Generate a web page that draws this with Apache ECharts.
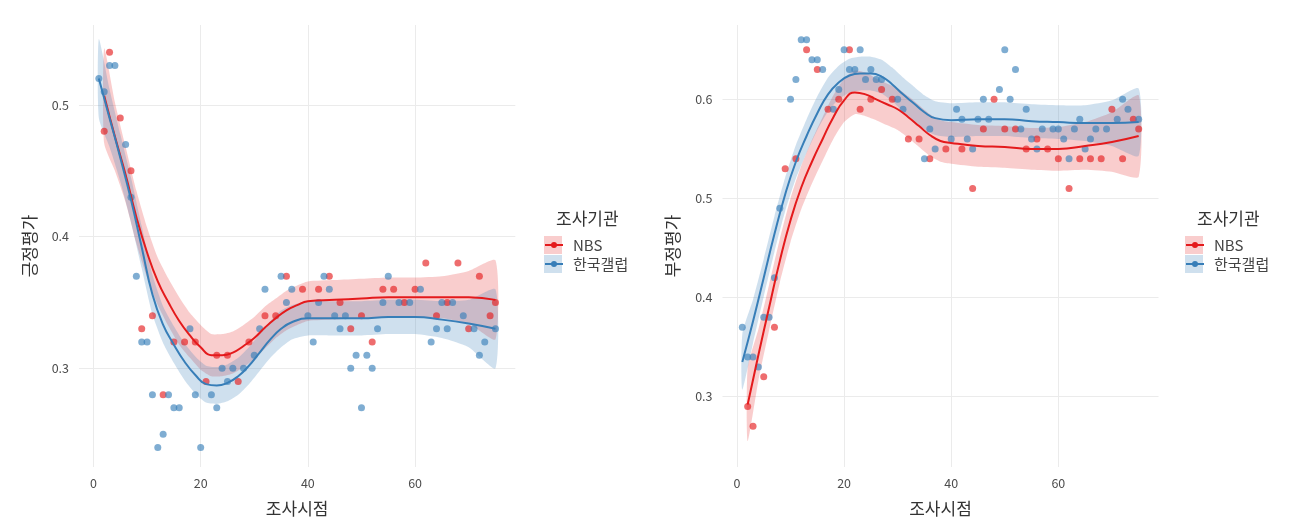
<!DOCTYPE html>
<html><head><meta charset="utf-8">
<script src="https://cdn.jsdelivr.net/npm/echarts@6/dist/echarts.min.js"></script>
<style>html,body{margin:0;padding:0;background:#fff}#c{width:1294px;height:521px}</style>
</head><body><div id="c"></div>
<script>
// ---- tick labels ----
const xTicks = [0, 20, 40, 60];
const posYTicks = [0.3, 0.4, 0.5];
const negYTicks = [0.3, 0.4, 0.5, 0.6];
const seriesNames = ['NBS', '한국갤럽'];

// ---- 긍정평가 (left) points ----
const posNBS_t = [2,3,5,7,9,11,13,15,17,19,21,23,25,27,29,32,34,36,39,42,44,46,48,50,52,54,56,58,60,62,64,66,68,70,72,74,75];
const posNBS_v = [0.48,0.54,0.49,0.45,0.33,0.34,0.28,0.32,0.32,0.32,0.29,0.31,0.31,0.29,0.32,0.34,0.34,0.37,0.36,0.36,0.37,0.35,0.33,0.34,0.32,0.36,0.36,0.35,0.36,0.38,0.34,0.35,0.38,0.33,0.37,0.34,0.35];
const posGal_t = [1,2,3,4,6,7,8,9,10,11,12,13,14,15,16,18,19,20,22,23,24,25,26,28,30,31,32,35,36,37,40,41,42,43,44,45,46,47,48,49,50,51,52,53,54,55,57,59,61,63,64,65,66,67,69,71,72,73,75];
const posGal_v = [0.52,0.51,0.53,0.53,0.47,0.43,0.37,0.32,0.32,0.28,0.24,0.25,0.28,0.27,0.27,0.33,0.28,0.24,0.28,0.27,0.30,0.29,0.30,0.30,0.31,0.33,0.36,0.37,0.35,0.36,0.34,0.32,0.35,0.37,0.36,0.34,0.33,0.34,0.30,0.31,0.27,0.31,0.30,0.33,0.35,0.37,0.35,0.35,0.36,0.32,0.33,0.35,0.33,0.35,0.34,0.33,0.31,0.32,0.33];

// ---- 부정평가 (right) points ----
const negNBS_t = [2,3,5,7,9,11,13,15,17,19,21,23,25,27,29,32,34,36,39,42,44,46,48,50,52,54,56,58,60,62,64,66,68,70,72,74,75];
const negNBS_v = [0.29,0.27,0.32,0.37,0.53,0.54,0.65,0.63,0.59,0.60,0.65,0.59,0.60,0.61,0.60,0.56,0.56,0.54,0.55,0.55,0.51,0.57,0.60,0.57,0.57,0.55,0.56,0.55,0.54,0.51,0.54,0.54,0.54,0.59,0.54,0.58,0.57];
const negGal_t = [1,2,3,4,5,6,7,8,10,11,12,13,14,15,16,18,19,20,21,22,23,24,25,26,27,30,31,35,36,37,40,41,42,43,44,45,46,47,49,50,51,52,53,54,55,56,57,59,60,61,62,63,64,65,66,67,69,71,72,73,75];
const negGal_v = [0.37,0.34,0.34,0.33,0.38,0.38,0.42,0.49,0.60,0.62,0.66,0.66,0.64,0.64,0.63,0.59,0.61,0.65,0.63,0.63,0.65,0.62,0.63,0.62,0.62,0.60,0.59,0.54,0.57,0.55,0.56,0.59,0.58,0.56,0.55,0.58,0.60,0.58,0.61,0.65,0.60,0.63,0.57,0.59,0.56,0.55,0.57,0.57,0.57,0.56,0.54,0.57,0.58,0.55,0.56,0.57,0.57,0.58,0.60,0.59,0.58];

// ---- smooth curves (fit, lower, upper) ----
const posNBSFit_t  = [2,4,6,8,10,12,14,16,18,20,22,24,26,28,30,32,34,36,38,40,45,50,55,60,65,70,75];
const posNBSFit_v  = [0.507,0.476,0.447,0.415,0.388,0.366,0.350,0.336,0.325,0.316,0.310,0.310,0.312,0.317,0.323,0.331,0.338,0.344,0.348,0.351,0.352,0.353,0.354,0.354,0.354,0.354,0.352];
const posNBSFit_lo = [0.471,0.450,0.426,0.395,0.369,0.348,0.332,0.318,0.308,0.299,0.294,0.294,0.296,0.301,0.307,0.315,0.323,0.329,0.333,0.336,0.337,0.338,0.339,0.339,0.338,0.334,0.322];
const posNBSFit_hi = [0.543,0.502,0.468,0.435,0.407,0.384,0.368,0.354,0.342,0.333,0.326,0.326,0.328,0.333,0.339,0.347,0.353,0.359,0.363,0.366,0.367,0.368,0.369,0.369,0.370,0.374,0.382];

const posGalFit_t  = [1,3,5,7,9,11,13,15,17,19,21,23,25,27,29,31,33,35,37,40,45,50,55,60,65,70,75];
const posGalFit_v  = [0.520,0.490,0.460,0.428,0.392,0.356,0.333,0.318,0.305,0.295,0.288,0.287,0.289,0.294,0.302,0.312,0.322,0.330,0.335,0.338,0.338,0.338,0.339,0.339,0.337,0.334,0.330];
const posGalFit_lo = [0.490,0.468,0.442,0.411,0.376,0.341,0.319,0.304,0.291,0.281,0.274,0.273,0.275,0.280,0.288,0.298,0.308,0.316,0.322,0.325,0.325,0.325,0.326,0.326,0.323,0.316,0.300];
const posGalFit_hi = [0.550,0.512,0.478,0.445,0.408,0.371,0.347,0.332,0.319,0.309,0.302,0.301,0.303,0.308,0.316,0.326,0.336,0.344,0.348,0.351,0.351,0.351,0.352,0.352,0.351,0.352,0.360];

const negNBSFit_t  = [2,4,6,8,10,12,14,16,18,20,22,24,26,28,30,32,34,36,38,40,45,50,55,60,65,70,75];
const negNBSFit_v  = [0.292,0.342,0.390,0.437,0.478,0.511,0.537,0.560,0.582,0.599,0.607,0.605,0.600,0.595,0.590,0.582,0.573,0.564,0.558,0.556,0.553,0.552,0.550,0.550,0.553,0.557,0.563];
const negNBSFit_lo = [0.255,0.316,0.367,0.415,0.456,0.489,0.515,0.538,0.560,0.577,0.585,0.583,0.579,0.574,0.569,0.561,0.552,0.543,0.537,0.535,0.532,0.531,0.529,0.528,0.529,0.527,0.522];
const negNBSFit_hi = [0.329,0.368,0.413,0.459,0.500,0.533,0.559,0.582,0.604,0.621,0.629,0.627,0.621,0.616,0.611,0.603,0.594,0.585,0.579,0.577,0.574,0.573,0.571,0.572,0.577,0.587,0.604];

const negGalFit_t  = [1,3,5,7,9,11,13,15,17,19,21,23,25,27,29,31,33,35,37,40,45,50,55,60,65,70,75];
const negGalFit_v  = [0.335,0.376,0.420,0.464,0.504,0.537,0.563,0.586,0.605,0.617,0.624,0.626,0.626,0.623,0.615,0.605,0.596,0.587,0.581,0.579,0.580,0.580,0.578,0.577,0.576,0.576,0.577];
const negGalFit_lo = [0.307,0.354,0.401,0.446,0.487,0.520,0.546,0.569,0.588,0.600,0.607,0.609,0.609,0.606,0.598,0.588,0.579,0.570,0.564,0.562,0.563,0.563,0.561,0.560,0.558,0.553,0.543];
const negGalFit_hi = [0.363,0.398,0.439,0.482,0.521,0.554,0.580,0.603,0.622,0.634,0.641,0.643,0.643,0.640,0.632,0.622,0.613,0.604,0.598,0.596,0.597,0.597,0.595,0.594,0.594,0.599,0.611];

// ---- styling ----
const RED = '#E41A1C', BLUE = '#377EB8';
const RED_PT = 'rgba(228,26,28,0.8)', BLUE_PT = 'rgba(55,126,184,0.8)';
const RED_BAND = 'rgba(228,26,28,0.22)', BLUE_BAND = 'rgba(55,126,184,0.24)';
const FONT = "'Noto Sans CJK KR', 'Noto Sans', sans-serif";

const pairs = (ts, vs) => ts.map((t, i) => [t, vs[i]]);

function scatter(id, idx, ts, vs, color) {
  return { type: 'scatter', name: id, xAxisIndex: idx, yAxisIndex: idx, data: pairs(ts, vs),
    symbolSize: 7, itemStyle: { color: color }, silent: true, animation: false };
}
// confidence band: polygon through (t, hi) forward and (t, lo) backward, placed by the axes
function band(id, idx, ts, lo, hi, fill) {
  return { type: 'custom', name: id, xAxisIndex: idx, yAxisIndex: idx, silent: true, animation: false,
    clip: true, data: [[ts[0], lo[0]]],
    renderItem: function (params, api) {
      const pts = [];
      for (let i = 0; i < ts.length; i++) pts.push(api.coord([ts[i], hi[i]]));
      for (let i = ts.length - 1; i >= 0; i--) pts.push(api.coord([ts[i], lo[i]]));
      return { type: 'polygon', shape: { points: pts, smooth: 0.2 }, style: { fill: fill } };
    } };
}
function fitLine(name, idx, ts, vs, color) {
  return { type: 'line', name: name, xAxisIndex: idx, yAxisIndex: idx, data: pairs(ts, vs),
    smooth: true, symbol: 'none', lineStyle: { color: color, width: 2 }, itemStyle: { color: color },
    silent: true, animation: false };
}

function xAxis(idx) {
  return { gridIndex: idx, type: 'value', min: -2.7, max: 78.7,
    axisLine: { show: false }, axisTick: { show: false, customValues: xTicks },
    axisLabel: { customValues: xTicks, color: '#4D4D4D', fontSize: 12.5, fontFamily: FONT, margin: 10 },
    splitLine: { show: true, lineStyle: { color: '#EBEBEB', width: 1 } },
    name: '조사시점', nameLocation: 'middle', nameGap: 33,
    nameTextStyle: { color: '#333', fontSize: 17, fontFamily: FONT } };
}
function yAxis(idx, min, max, ticks, title) {
  return { gridIndex: idx, type: 'value', min: min, max: max,
    axisLine: { show: false }, axisTick: { show: false, customValues: ticks },
    axisLabel: { customValues: ticks, color: '#4D4D4D', fontSize: 12.5, fontFamily: FONT, margin: 10,
      formatter: v => v.toFixed(1) },
    splitLine: { show: true, lineStyle: { color: '#EBEBEB', width: 1 } },
    name: title, nameLocation: 'middle', nameGap: 41,
    nameTextStyle: { color: '#333', fontSize: 17, fontFamily: FONT } };
}

const legendCommon = {
  orient: 'vertical', itemWidth: 18, itemHeight: 7.5, itemGap: 0, selectedMode: false,
  data: seriesNames,
  textStyle: { color: '#444', fontSize: 15, fontFamily: FONT, lineHeight: 19, padding: [0, 0, 0, 5] }
};

const option = {
  backgroundColor: '#fff',
  animation: false,
  grid: [
    { left: 79, top: 25, width: 436.3, height: 442, outerBoundsMode: 'none' },
    { left: 722.5, top: 25, width: 436, height: 442, outerBoundsMode: 'none' }
  ],
  xAxis: [xAxis(0), xAxis(1)],
  yAxis: [yAxis(0, 0.2251, 0.5607, posYTicks, '긍정평가'), yAxis(1, 0.229, 0.675, negYTicks, '부정평가')],
  title: [
    { text: '조사기관', left: 551, top: 205, padding: 5, textStyle: { color: '#333', fontSize: 17, fontWeight: 'normal', fontFamily: FONT } },
    { text: '조사기관', left: 1192, top: 205, padding: 5, textStyle: { color: '#333', fontSize: 17, fontWeight: 'normal', fontFamily: FONT } }
  ],
  legend: [
    Object.assign({ left: 544, top: 235.5, padding: 0 }, legendCommon),
    Object.assign({ left: 1185, top: 235.5, padding: 0 }, legendCommon)
  ],
  graphic: [
    { type: 'rect', left: 544, top: 236, shape: { width: 18, height: 18 }, style: { fill: RED_BAND }, z: -1 },
    { type: 'rect', left: 544, top: 255, shape: { width: 18, height: 18 }, style: { fill: BLUE_BAND }, z: -1 },
    { type: 'rect', left: 1185, top: 236, shape: { width: 18, height: 18 }, style: { fill: RED_BAND }, z: -1 },
    { type: 'rect', left: 1185, top: 255, shape: { width: 18, height: 18 }, style: { fill: BLUE_BAND }, z: -1 }
  ],
  series: [
    scatter('pos_nbs_pts', 0, posNBS_t, posNBS_v, RED_PT),
    scatter('pos_gal_pts', 0, posGal_t, posGal_v, BLUE_PT),
    band('pos_nbs_band', 0, posNBSFit_t, posNBSFit_lo, posNBSFit_hi, RED_BAND),
    fitLine('NBS', 0, posNBSFit_t, posNBSFit_v, RED),
    band('pos_gal_band', 0, posGalFit_t, posGalFit_lo, posGalFit_hi, BLUE_BAND),
    fitLine('한국갤럽', 0, posGalFit_t, posGalFit_v, BLUE),

    scatter('neg_nbs_pts', 1, negNBS_t, negNBS_v, RED_PT),
    scatter('neg_gal_pts', 1, negGal_t, negGal_v, BLUE_PT),
    band('neg_nbs_band', 1, negNBSFit_t, negNBSFit_lo, negNBSFit_hi, RED_BAND),
    fitLine('NBS', 1, negNBSFit_t, negNBSFit_v, RED),
    band('neg_gal_band', 1, negGalFit_t, negGalFit_lo, negGalFit_hi, BLUE_BAND),
    fitLine('한국갤럽', 1, negGalFit_t, negGalFit_v, BLUE)
  ]
};

const chart = echarts.init(document.getElementById('c'), null, { renderer: 'canvas' });
chart.setOption(option);
</script>
</body></html>
